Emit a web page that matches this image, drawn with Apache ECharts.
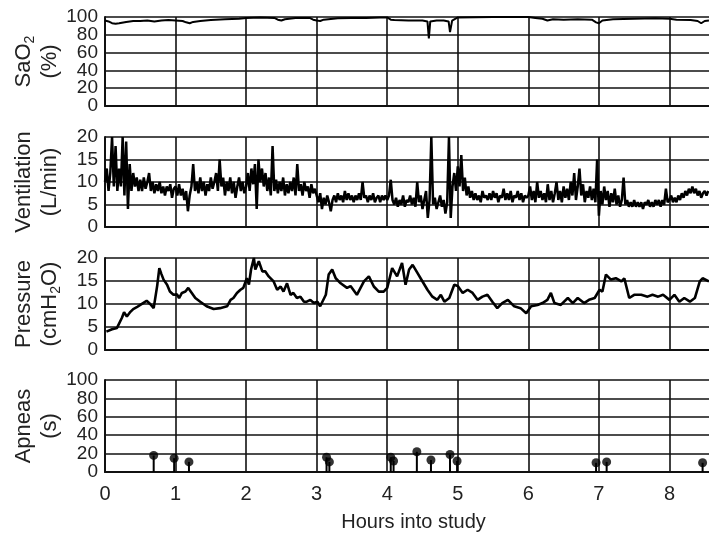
<!DOCTYPE html>
<html><head><meta charset="utf-8">
<script src="https://cdn.jsdelivr.net/npm/echarts@6.0.0/dist/echarts.min.js"></script>
<style>html,body{margin:0;padding:0;background:#fff;overflow:hidden}#c{width:709px;height:541px}</style>
</head><body><div id="c"></div>
<script>
// ---------- DATA ----------
const hourTicks = ['0','1','2','3','4','5','6','7','8'];
const percentTicks = ['0','20','40','60','80','100'];   // SaO2 and Apneas tick labels

// SaO2 (%) : [hour, value]
const saO2 = [[0,96],[0.05,95],[0.1,93],[0.15,92.5],[0.2,93],[0.3,94.5],[0.4,95.5],[0.5,95.5],[0.6,96],[0.7,95],[0.8,96],[0.9,96.5],[1.0,96],[1.1,95.5],[1.15,94],[1.2,93],[1.25,94.5],[1.35,95.5],[1.5,96.5],[1.7,97.5],[1.9,98],[2.0,99],[2.2,99.5],[2.4,99],[2.45,97],[2.5,96],[2.55,97.5],[2.7,99],[2.9,99],[2.95,97],[3.0,96],[3.05,95.5],[3.1,97],[3.3,98.5],[3.5,99],[3.7,99],[3.9,99.5],[4.0,99.5],[4.05,97],[4.1,96.5],[4.3,96],[4.5,96],[4.57,95],[4.59,76],[4.61,95],[4.7,96],[4.8,96],[4.87,95],[4.89,83],[4.92,96],[5.0,99.5],[5.5,100],[6.0,100],[6.1,99],[6.2,98],[6.27,96],[6.35,97.5],[6.5,97],[6.7,97.5],[6.9,97],[6.96,94],[7.0,93],[7.05,96],[7.2,97.5],[7.5,98],[7.8,98.5],[8.0,98],[8.1,97],[8.3,96.5],[8.4,95.5],[8.45,93],[8.5,95.5],[8.56,96]];

// Ventilation (L/min), one sample every 0.025 h, one array per hour
const ventStep = 0.025;
const vent0 = [10,13,8,12,20,9,18,8,13,9,20,7,19,4,14,8,12,9,11,8,10.5,8,11,8.5,10,12,8,10,7.5,9.5,8,10,7.5,9,7,9,8,9.5,6.5,8.5];
const vent1 = [9,7,9.5,7,8.5,6,8,3.5,7,9,14,8,10,7.5,11,8,10,7,9.5,8,11,8.5,10,12,8,15,9,11,7,10,8,11,7.5,10,6.5,9,11,8,10,7.5];
const vent2 = [9,12,8,13,9.5,14,4,15,10,13,9,12,8,11,7,18,8,10.5,7.5,10,8,11,7,9.5,7.5,10,8,11,7,14,8,9.5,7,10,8,9,6.5,9.5,7.5,8.5];
const vent3 = [7,5.5,7.5,4,6.5,5,7,5.5,3.5,6,7,5.5,7.5,6,7,5.5,8,6,7.5,6,7,5.5,7,6,7.5,6,10,6.5,7,5.5,7,6,7.5,5.5,6.5,7,5.5,7,6,7];
const vent4 = [6,7,10.5,6,5,6.5,4.5,6,5,7,4.5,6,5.5,7,5,6.5,4.5,10,5.5,7,4,6,8,2,6,20,5,6.5,4,5.5,7,4.5,6,3,5.5,20,2,9,12,8];
const vent5 = [13.5,9,16,8,11,7,9,6.5,8,6,7.5,6,7,5.5,8,6.5,7,6,7.5,6,8,6.5,7.5,5.5,7,6.5,8.5,6,7.5,6,8,5.5,7,6.5,8,6,7.5,5.5,7,6.5];
const vent6 = [7,9,6,8,5.5,10,6.5,8,6,7.5,5.5,9.5,6,8,5.5,7.5,10,6,8,5.5,9,6.5,8.5,6,10,7,12,6,9,13,7,9.5,5.5,8,6.5,9,6,8.5,5.5,15];
const vent7 = [2.5,8,5,9,6,8,4.5,7.5,5.5,8.5,5,7,4.5,6,11,5,6,4.5,5.5,4.5,6,4.5,5.5,4.5,5.5,4,5.5,5,6,4.5,5.5,4.5,6,5,6,4.5,6,5,8.5,5.5];
const vent8 = [6,7,5.5,6.5,5.5,7,6,7.5,6.5,8,7,8.5,7.5,9,7.5,8.5,7,8,6.5,7.5,8,7,8];

// Pressure (cmH2O) : [hour, value]
const pressure = [[0.02,4.0],[0.10,4.5],[0.17,4.8],[0.19,5.1],[0.24,7.0],[0.27,8.2],[0.31,7.3],[0.36,8.3],[0.40,8.9],[0.45,9.3],[0.50,9.8],[0.54,10.2],[0.59,10.7],[0.64,10],[0.69,9.1],[0.71,9.5],[0.74,14],[0.77,17.8],[0.80,16.5],[0.83,15.3],[0.88,14.2],[0.92,12.7],[0.97,12],[1.02,12.1],[1.05,11.3],[1.09,12.4],[1.14,12.7],[1.18,13.5],[1.23,12.4],[1.28,11.3],[1.35,10.5],[1.44,9.5],[1.54,8.9],[1.63,9.1],[1.73,9.5],[1.78,10.9],[1.82,11.3],[1.87,12.4],[1.92,13.1],[1.96,13.5],[2.01,15.6],[2.04,14.2],[2.07,17.5],[2.11,20],[2.13,17.5],[2.18,19.3],[2.23,17.1],[2.27,17.1],[2.32,16],[2.39,14.9],[2.44,13.1],[2.49,13.8],[2.53,12.7],[2.58,14.5],[2.63,12],[2.67,12.4],[2.72,11.3],[2.77,11.6],[2.82,10.5],[2.86,10.5],[2.91,10.9],[2.96,10.2],[3.01,10.5],[3.05,9.5],[3.13,12],[3.17,16.4],[3.22,17.5],[3.27,15.6],[3.34,14.5],[3.43,13.5],[3.48,13.9],[3.57,12],[3.67,14.9],[3.74,16],[3.81,13.8],[3.88,12.7],[3.95,12.7],[4.00,13.5],[4.07,17.8],[4.14,16],[4.21,18.9],[4.26,14.2],[4.31,17.5],[4.36,18.5],[4.43,16.7],[4.50,14.9],[4.57,13.1],[4.64,11.6],[4.71,10.9],[4.76,12],[4.81,10.5],[4.88,11.3],[4.95,14.2],[5.00,13.9],[5.07,12.4],[5.14,13.1],[5.21,12.4],[5.28,10.9],[5.35,11.6],[5.42,12],[5.49,10.5],[5.56,9.1],[5.63,10.2],[5.71,10.9],[5.80,9.5],[5.89,9.1],[5.97,8.0],[6.04,9.5],[6.13,9.8],[6.20,10.2],[6.27,10.9],[6.32,12.4],[6.37,10.2],[6.46,9.8],[6.56,11.3],[6.63,10.2],[6.70,11.3],[6.79,10.2],[6.86,10.9],[6.94,11.3],[7.01,13.1],[7.05,12.7],[7.10,16.4],[7.17,15.3],[7.24,15.6],[7.32,14.9],[7.36,15.6],[7.43,11.3],[7.50,12],[7.60,12],[7.69,11.6],[7.76,12],[7.84,11.6],[7.91,12],[8.00,10.9],[8.07,12],[8.14,10.5],[8.21,11.3],[8.29,10.5],[8.36,11.3],[8.43,14.9],[8.47,15.6],[8.56,14.9]];

// Apneas (s)
const apneaHours = [0.69,0.98,1.19,3.14,3.18,4.05,4.09,4.42,4.62,4.89,4.99,6.96,7.11,8.47];
const apneaSecs  = [18,15,11,16,11,16,12,22,13,19,12,10,11,10];

// ---------- BUILD ----------
const ventAll = [].concat(vent0,vent1,vent2,vent3,vent4,vent5,vent6,vent7,vent8);
const ventilation = ventAll.map((v,i)=>[+(i*ventStep).toFixed(3), v]);
const apneas = apneaHours.map((h,i)=>[h, apneaSecs[i]]);

const INK = '#111';
const TXT = '#222';
const FONT = '"Liberation Sans", Arial, sans-serif';
const gridDefs = [{top:17,height:89},{top:137,height:90},{top:258,height:92},{top:380,height:92}];

function nameStyle(){
  return {color:TXT, fontFamily:FONT, fontSize:22, lineHeight:26,
    rich:{a:{fontSize:22, lineHeight:26, fontFamily:FONT, color:TXT},
          s:{fontSize:14, lineHeight:26, fontFamily:FONT, color:TXT, verticalAlign:'bottom', padding:[10,0,0,0]}}};
}
function valueAxis(grid, max, interval, withLabels, name){
  return {type:'value', gridIndex:grid, position:'left', min:0, max:max, interval:interval,
    axisLine:{show:true, lineStyle:{color:INK, width:2}},
    axisTick:{show:false},
    axisLabel:{show:withLabels, fontSize:19, color:TXT, fontFamily:FONT, margin:7},
    splitLine:{show:true, lineStyle:{color:INK, width:1.6}},
    name:name||'', nameLocation:'middle', nameRotate:90, nameGap:42, nameMoveOverlap:false, nameTextStyle:nameStyle()};
}
function labelAxis(grid, ticks, name){
  return {type:'category', gridIndex:grid, position:'left', data:ticks, boundaryGap:false,
    axisLine:{show:false}, axisTick:{show:false}, splitLine:{show:false},
    axisLabel:{interval:0, fontSize:19, color:TXT, fontFamily:FONT, margin:7},
    name:name, nameLocation:'middle', nameRotate:90, nameGap:42, nameMoveOverlap:false, nameTextStyle:nameStyle()};
}

const chart = echarts.init(document.getElementById('c'), null, {renderer:'canvas'});
const option = {
  animation:false,
  backgroundColor:'#fff',
  grid: gridDefs.map(g=>({left:105, width:635, top:g.top, height:g.height, containLabel:false, outerBoundsMode:'none'})),
  xAxis: gridDefs.map((g,i)=>({
    type:'value', gridIndex:i, min:0, max:9, interval:1,
    axisLine:{show:true, onZero:false, lineStyle:{color:INK, width:2}},
    axisTick:{show:false},
    axisLabel:{show:i===3, showMaxLabel:false, fontSize:20, color:TXT, fontFamily:FONT, margin:12,
      formatter:(v)=>hourTicks[Math.round(v)] ?? ''},
    splitLine:{show:true, lineStyle:{color:INK, width:1.6}},
    name: i===3 ? 'Hours into study' : '',
    nameLocation:'middle', nameGap:40,
    nameTextStyle:{fontSize:20, color:TXT, fontFamily:FONT, padding:[0,18,0,0]}
  })),
  yAxis: [
    valueAxis(0, 100, 20, false),
    labelAxis(0, percentTicks, '{a|SaO}{s|2}\n{a|(%)}'),
    valueAxis(1, 20, 5, true, '{a|Ventilation}\n{a|(L/min)}'),
    valueAxis(2, 20, 5, true, '{a|Pressure}\n{a|(cmH}{s|2}{a|O)}'),
    valueAxis(3, 100, 20, false),
    labelAxis(3, percentTicks, '{a|Apneas}\n{a|(s)}')
  ],
  series:[
    {type:'line', xAxisIndex:0, yAxisIndex:0, data:saO2, symbol:'none', lineStyle:{color:'#000', width:2}, z:5},
    {type:'line', xAxisIndex:1, yAxisIndex:2, data:ventilation, symbol:'none', lineStyle:{color:'#000', width:2.5}, z:5},
    {type:'line', xAxisIndex:2, yAxisIndex:3, data:pressure, symbol:'none', lineStyle:{color:'#000', width:2.6}, z:5},
    {type:'bar', xAxisIndex:3, yAxisIndex:4, data:apneas, barWidth:2, itemStyle:{color:'#000'}, z:5},
    {type:'scatter', xAxisIndex:3, yAxisIndex:4, data:apneas, symbol:'circle', symbolSize:9, itemStyle:{color:'#000'}, z:6}
  ]
};
chart.setOption(option);
</script>
</body></html>
